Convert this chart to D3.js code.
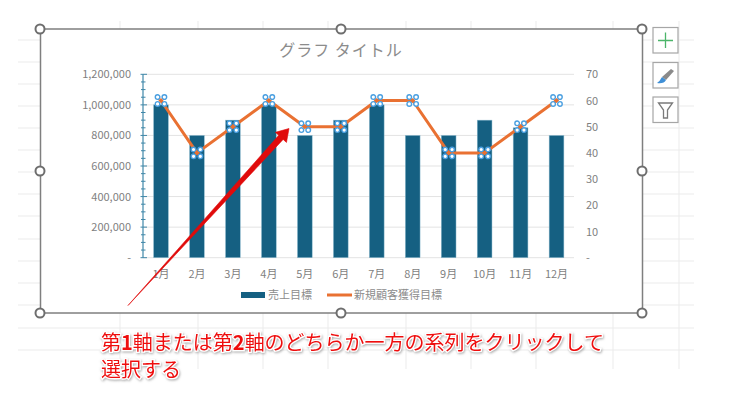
<!DOCTYPE html>
<html><head><meta charset="utf-8">
<script src="https://cdn.jsdelivr.net/npm/d3@7"></script>
<style>html,body{margin:0;padding:0;background:#fff}svg{display:block}text{font-family:"Noto Sans CJK JP","Liberation Sans",sans-serif}</style>
</head><body><svg id="c" width="740" height="406"></svg>
<script>
const months=["1月","2月","3月","4月","5月","6月","7月","8月","9月","10月","11月","12月"];
const salesTarget=[1000000,800000,900000,1000000,800000,900000,1000000,800000,800000,900000,850000,800000];
const customerTarget=[60,40,50,60,50,50,60,60,40,40,50,60];
const leftTicks=[0,200000,400000,600000,800000,1000000,1200000];
const rightTicks=[0,10,20,30,40,50,60,70];
const sheetRows=[40,62,84,106,128,150,172,194,216,239,261,283,305,328,350];
const sheetCols=[120,198,263,328,406,471,536,613,679];
const seriesNames=["売上目標","新規顧客獲得目標"];
const titleText="グラフ タイトル";
const noteLines=[["第",false],["1",true],["軸または第",false],["2",true],["軸のどちらか一方の系列をクリックして",false]];
const noteLine2="選択する";

const svg=d3.select("#c");
const x=d3.scaleBand().domain(months).range([143,574.5]).paddingInner(0.59).paddingOuter(0.295);
const yL=d3.scaleLinear().domain([0,1200000]).range([257.7,74.3]);
const yR=d3.scaleLinear().domain([0,70]).range([257.7,74.3]);
const cx=m=>x(m)+x.bandwidth()/2;
const grey="#7f7f7f";

// sheet grid
svg.append("g").selectAll("line").data(sheetRows).join("line")
 .attr("x1",18).attr("x2",694).attr("y1",d=>d).attr("y2",d=>d).attr("stroke","#ebebeb");
svg.append("g").selectAll("line").data(sheetCols).join("line")
 .attr("x1",d=>d).attr("x2",d=>d).attr("y1",21).attr("y2",369).attr("stroke","#ebebeb");

// chart area
svg.append("rect").attr("x",40.5).attr("y",29).attr("width",602).attr("height",284).attr("fill","#fff").attr("stroke",grey).attr("stroke-width",1.5);

svg.append("text").attr("x",341).attr("y",56).attr("text-anchor","middle").attr("font-size",16).attr("letter-spacing",1).attr("fill","#8c8c8c").text(titleText);

// gridlines
svg.append("g").selectAll("line").data(leftTicks).join("line")
 .attr("x1",143).attr("x2",574).attr("y1",d=>yL(d)).attr("y2",d=>yL(d)).attr("stroke","#e3e3e3");

// bars
svg.append("g").selectAll("rect").data(months).join("rect")
 .attr("x",d=>x(d)).attr("width",x.bandwidth())
 .attr("y",(d,i)=>yL(salesTarget[i])).attr("height",(d,i)=>yL(0)-yL(salesTarget[i]))
 .attr("fill","#156082").attr("stroke","#8fbcd0").attr("stroke-width",0.5);

// left axis
const axL=d3.axisLeft(yL).tickValues(leftTicks).tickSize(0).tickFormat(d=>d===0?"-":d3.format(",")(d));
const gL=svg.append("g").attr("transform","translate(131,0)").call(axL);
gL.select(".domain").remove();
gL.selectAll("text").attr("font-size",11).attr("font-family","Liberation Sans").attr("fill","#7f7f7f").attr("x",0);
const minor=d3.range(0,1200001,50000);
const axisBlue="#3f87a8";
svg.append("line").attr("x1",143).attr("x2",143).attr("y1",yL(1200000)).attr("y2",yL(0)).attr("stroke",axisBlue).attr("stroke-width",1.2);
svg.append("g").selectAll("line").data(minor).join("line")
 .attr("x1",d=>d%200000===0?140.5:141).attr("x2",d=>d%200000===0?147:145.5).attr("y1",d=>yL(d)).attr("y2",d=>yL(d))
 .attr("stroke",axisBlue).attr("stroke-width",1);

// right axis
const axR=d3.axisRight(yR).tickValues(rightTicks).tickSize(0).tickFormat(d=>d===0?"-":d);
const gR=svg.append("g").attr("transform","translate(586,0)").call(axR);
gR.select(".domain").remove();
gR.selectAll("text").attr("font-size",11).attr("font-family","Liberation Sans").attr("fill","#7f7f7f").attr("x",0);

// month labels
svg.append("g").selectAll("text").data(months).join("text")
 .attr("x",cx).attr("y",278).attr("text-anchor","middle").attr("font-size",11).attr("fill","#7f7f7f").text(d=>d);

// line
const line=d3.line().x((d,i)=>cx(months[i])).y(d=>yR(d));
svg.append("path").datum(customerTarget).attr("d",line).attr("fill","none").attr("stroke","#e97132").attr("stroke-width",3).attr("stroke-linejoin","round").attr("stroke-linecap","round");

// selection handles
const hg=svg.append("g").selectAll("g").data(customerTarget).join("g")
 .attr("transform",(d,i)=>`translate(${cx(months[i])},${yR(d)})`);
[[-3.4,-3.4],[3.4,-3.4],[-3.4,3.4],[3.4,3.4]].forEach(o=>{
 hg.append("circle").attr("cx",o[0]).attr("cy",o[1]).attr("r",2.3).attr("fill","#fff").attr("stroke","#4a9fe0").attr("stroke-width",1.4);
});
hg.append("path").attr("d","M0 -2.6L2.6 0L0 2.6L-2.6 0Z").attr("fill","#e97132");

// legend
const lgY=295;
svg.append("rect").attr("x",241).attr("y",lgY-3).attr("width",24).attr("height",6).attr("fill","#156082");
svg.append("text").attr("x",268).attr("y",lgY+4).attr("font-size",11).attr("fill","#8c8c8c").text(seriesNames[0]);
svg.append("line").attr("x1",327).attr("x2",352).attr("y1",lgY).attr("y2",lgY).attr("stroke","#e97132").attr("stroke-width",3);
svg.append("text").attr("x",354).attr("y",lgY+4).attr("font-size",11).attr("fill","#8c8c8c").text(seriesNames[1]);

// resize handles
const handles=[[40,29],[341,29],[642,29],[40,171],[642,171],[40,313],[341,313],[642,313]];
svg.append("g").selectAll("circle").data(handles).join("circle")
 .attr("cx",d=>d[0]).attr("cy",d=>d[1]).attr("r",4.5).attr("fill","#fff").attr("stroke","#6e6e6e").attr("stroke-width",2);

// side buttons
const btnY=[27.5,62.5,97];
svg.append("g").selectAll("rect").data(btnY).join("rect")
 .attr("x",653).attr("y",d=>d).attr("width",25).attr("height",25.5).attr("fill","#fff").attr("stroke","#a6a6a6").attr("stroke-width",1.2);
svg.append("path").attr("d","M665.5 32.5V48M658 40.5H673").attr("stroke","#4cb56a").attr("stroke-width",1.3).attr("fill","none");
svg.append("path").attr("d","M671 69L674 71L666 80L662 77Z").attr("fill","#8a8a8a");
svg.append("path").attr("d","M662 77L666 80Q664 84 657 83Q660 81 662 77Z").attr("fill","#3f8fd6");
svg.append("path").attr("d","M658.5 103H672.5L667.5 110V118H663.5V110Z").attr("fill","#fff").attr("stroke","#7a7a7a").attr("stroke-width",1.3);

// arrow annotation
const tail=[128,305.5],tip=[289,128.5];
const ang=Math.atan2(tip[1]-tail[1],tip[0]-tail[0]),nx=-Math.sin(ang),ny=Math.cos(ang);
const back=12,shaft=3,head=7.5;
const bx=tip[0]-Math.cos(ang)*back,by=tip[1]-Math.sin(ang)*back;
const pts=[tail,[bx+nx*shaft,by+ny*shaft],[bx+nx*head,by+ny*head],tip,[bx-nx*head,by-ny*head],[bx-nx*shaft,by-ny*shaft]];
svg.append("polygon").attr("points",pts.map(p=>p.join(",")).join(" ")).attr("fill","#e00b0b").attr("stroke","#e00b0b").attr("stroke-width",0.6);

// note
const defs=svg.append("defs");
const f=defs.append("filter").attr("id","sh").attr("x","-5%").attr("y","-20%").attr("width","110%").attr("height","150%");
f.append("feDropShadow").attr("dx",0.8).attr("dy",1.2).attr("stdDeviation",0.8).attr("flood-color","#999").attr("flood-opacity",0.8);
const ng=svg.append("g").attr("filter","url(#sh)").attr("fill","#ee1111").attr("stroke","#fff").attr("stroke-width",2.5).attr("paint-order","stroke").attr("font-size",20);
ng.append("text").attr("x",101).attr("y",350).selectAll("tspan").data(noteLines).join("tspan")
 .attr("font-weight",d=>d[1]?700:400).text(d=>d[0]);
ng.append("text").attr("x",101).attr("y",377).text(noteLine2);
</script></body></html>
